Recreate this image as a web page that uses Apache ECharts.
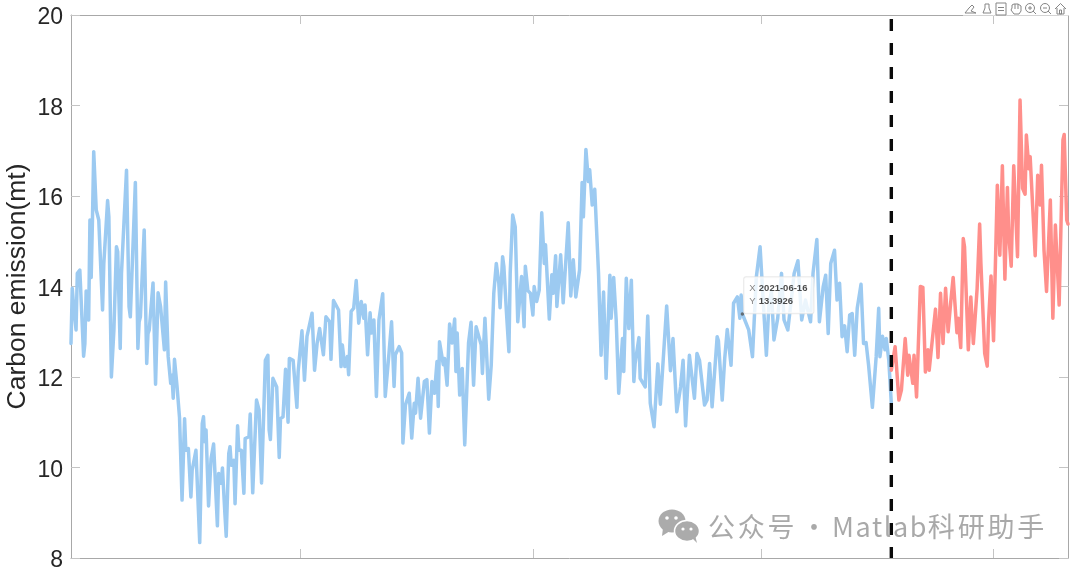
<!DOCTYPE html>
<html>
<head>
<meta charset="utf-8">
<style>html,body{margin:0;padding:0;background:#fff}#c{width:1080px;height:570px}</style>
<script src="https://cdn.jsdelivr.net/npm/echarts@6/dist/echarts.min.js"></script>
</head>
<body>
<div id="c"></div>
<script>
const startDate = [2020, 0, 1];
const endDay = 790;
const splitDay = 650;
const tickDates = [[2020,6,1],[2021,0,1],[2021,6,1],[2022,0,1]];
const yTicks = {min: 8, max: 20, step: 2};
const yName = 'Carbon emission(mt)';
const tipDate = [2021, 5, 16];
const tipValue = 13.3926;
const tipText = ['2021-06-16', '13.3926'];
const watermark = '公众号 · Matlab科研助手';

// [day since start, value]
const observed = [
[0,12.74],[1,13.96],[2,13.6],[4,13.04],[5,14.29],[7,14.36],[8,14.4],[10,12.46],[11,12.74],[12,13.9],[13,13.86],[14,13.26],[15,15.47],[16,14.2],[17,15.47],[18,16.98],[20,15.69],[22,15.47],[25,13.48],[26,14.5],[29,15.9],[30,15.54],[32,12.0],[34,13.04],[36,14.88],[37,14.77],[39,12.63],[40,14.29],[41,14.25],[44,16.57],[46,13.55],[47,13.33],[51,16.3],[53,12.63],[54,13.22],[55,13.33],[58,15.25],[60,12.3],[61,12.96],[62,13.04],[65,14.08],[67,11.84],[69,13.86],[71,13.55],[72,13.58],[74,12.6],[75,14.1],[77,12.45],[79,11.86],[80,12.04],[81,11.53],[82,12.39],[84,11.8],[86,11.1],[88,9.28],[90,11.08],[91,10.38],[93,10.42],[95,9.35],[96,9.94],[99,10.38],[100,10.34],[102,8.34],[104,10.97],[105,11.12],[106,10.57],[107,10.83],[109,9.15],[111,10.2],[113,10.52],[116,8.71],[117,9.87],[119,9.65],[120,9.99],[122,8.95],[123,8.48],[125,10.31],[126,10.46],[127,10.05],[129,10.16],[130,9.2],[132,10.92],[133,10.38],[135,10.38],[137,9.43],[138,10.64],[141,10.68],[142,11.18],[144,9.44],[147,11.49],[149,11.27],[151,9.66],[154,12.37],[156,12.48],[157,10.83],[158,10.62],[160,11.97],[161,11.97],[163,11.78],[165,10.22],[166,11.08],[168,11.12],[170,12.17],[172,11.0],[173,12.41],[176,12.37],[179,11.33],[180,12.12],[183,13.02],[185,11.93],[187,12.9],[191,13.41],[193,12.15],[195,12.74],[197,13.07],[200,12.49],[202,13.33],[205,13.22],[206,12.39],[208,13.69],[212,13.48],[214,12.23],[215,12.71],[217,12.23],[219,12.45],[220,12.05],[222,13.45],[224,13.52],[226,14.13],[228,13.19],[230,13.67],[232,13.3],[233,13.59],[235,12.49],[237,13.42],[238,12.97],[240,13.26],[242,11.57],[244,13.26],[247,13.84],[249,11.57],[252,12.53],[254,13.22],[256,11.79],[257,12.49],[260,12.67],[262,12.53],[263,10.54],[265,11.38],[268,11.64],[270,10.65],[272,11.42],[273,11.2],[275,11.97],[277,11.09],[280,11.9],[282,11.94],[284,10.76],[286,11.9],[288,11.64],[290,12.34],[291,11.35],[292,12.78],[295,12.27],[296,12.41],[298,11.82],[300,13.17],[302,12.75],[304,13.28],[305,12.12],[306,12.97],[308,11.6],[310,12.19],[312,10.5],[315,12.75],[317,13.21],[319,11.82],[321,13.11],[325,12.71],[326,12.08],[328,13.3],[331,11.51],[333,12.27],[335,13.85],[337,14.51],[339,14.07],[340,13.53],[342,14.66],[343,14.44],[345,13.45],[347,12.56],[348,14.29],[350,15.58],[352,15.32],[354,13.22],[357,14.22],[359,13.11],[360,14.45],[362,13.91],[364,13.85],[366,13.37],[367,14.0],[369,13.67],[371,13.92],[373,15.63],[375,14.51],[376,14.92],[379,13.28],[381,14.26],[382,13.85],[384,14.68],[385,13.56],[388,14.7],[390,13.64],[394,15.41],[396,13.79],[398,14.59],[400,13.77],[403,14.37],[405,16.3],[406,15.54],[408,17.03],[410,16.32],[411,16.58],[413,15.8],[415,16.15],[418,14.29],[420,12.48],[422,13.88],[424,11.97],[427,14.25],[428,13.3],[430,14.2],[432,13.26],[434,11.64],[437,12.85],[438,12.12],[440,14.18],[442,13.07],[444,14.14],[446,11.9],[447,12.3],[450,12.87],[451,11.97],[455,11.78],[457,13.35],[459,11.42],[462,10.9],[465,12.29],[467,11.4],[472,13.57],[475,12.14],[477,12.85],[480,11.23],[483,11.78],[485,12.37],[487,10.92],[490,12.48],[494,11.53],[496,12.52],[498,12.37],[502,11.38],[504,11.49],[506,12.3],[508,11.34],[512,12.89],[513,12.8],[516,11.49],[518,12.41],[520,13.05],[523,12.26],[525,13.63],[528,13.77],[530,13.3],[531,13.81],[532,13.3926],[537,13.04],[540,12.45],[543,14.2],[546,14.88],[551,12.48],[553,13.6],[555,13.9],[557,12.82],[560,13.3],[563,14.29],[565,13.26],[568,13.04],[571,13.77],[573,14.29],[576,14.57],[579,13.26],[582,13.7],[586,13.22],[588,14.3],[591,15.04],[593,13.22],[596,13.99],[598,14.25],[600,12.96],[602,14.51],[605,14.8],[607,13.7],[609,14.07],[611,12.89],[613,13.13],[615,12.56],[617,13.37],[619,13.4],[621,12.48],[623,13.52],[626,14.05],[628,12.74],[630,12.76],[632,12.26],[635,11.33],[638,12.45],[640,13.52],[641,12.45],[643,12.9],[645,12.6],[646,12.85],[648,12.37],[650,11.42]
];
const forecast = [
[650,12.15],[653,12.67],[656,11.49],[658,11.71],[661,12.85],[663,12.04],[664,12.48],[667,11.86],[668,12.48],[670,11.56],[673,14.0],[675,13.98],[677,12.11],[679,12.6],[680,12.15],[683,12.96],[685,13.5],[687,12.43],[689,13.85],[691,12.74],[693,13.96],[695,13.0],[697,13.63],[699,14.2],[702,12.98],[703,13.3],[705,12.65],[707,15.06],[708,14.88],[711,12.6],[713,13.77],[715,12.74],[718,13.96],[720,15.38],[721,14.5],[724,12.52],[726,12.24],[727,13.2],[729,14.23],[731,12.8],[734,16.24],[736,14.69],[738,16.67],[740,14.16],[742,16.19],[743,15.17],[745,14.45],[747,16.67],[750,14.66],[752,18.12],[754,16.17],[756,16.04],[757,17.35],[759,16.6],[760,16.87],[764,14.68],[766,16.46],[768,15.8],[769,16.68],[771,14.8],[773,13.89],[776,15.91],[778,13.3],[780,15.36],[783,13.59],[786,17.24],[787,17.36],[789,15.47],[790,15.38]
];

const DAY = 86400000;
const t0 = new Date(startDate[0], startDate[1], startDate[2]).getTime();
const at = d => t0 + d * DAY;
const ticksMs = tickDates.map(d => new Date(d[0], d[1], d[2]).getTime());
const asTime = arr => arr.map(p => [at(p[0]), p[1]]);

const axisColor = '#a8a8a8';
const xBase = {
  type: 'time', min: at(0), max: at(endDay),
  axisLine: {show: true, onZero: false, lineStyle: {color: axisColor, width: 1}},
  axisTick: {show: true, inside: true, length: 9, customValues: ticksMs, lineStyle: {color: '#c4c4c4', width: 1}},
  axisLabel: {show: false}, splitLine: {show: false}, minorTick: {show: false}
};
const yBase = {
  type: 'value', min: yTicks.min, max: yTicks.max, interval: yTicks.step,
  axisLine: {show: true, onZero: false, lineStyle: {color: axisColor, width: 1}},
  axisTick: {show: true, inside: true, length: 9, lineStyle: {color: '#c4c4c4', width: 1}},
  splitLine: {show: false}
};

// toolbar and watermark decorations
const iconStroke = {stroke: '#858585', fill: 'none', lineWidth: 1};
const ic = (type, shape, style) => ({type, shape, style: Object.assign({}, iconStroke, style || {}), z: 60});
const toolbar = [
  {type: 'rect', shape: {x: 963, y: 0, width: 117, height: 15.5}, style: {fill: '#fff'}, z: 59},
  ic('polyline', {points: [[965,13],[969,8],[972,5],[974,7],[971,11],[976,13],[965,13]]}),
  ic('polyline', {points: [[985,4],[989,4],[989,8],[991,13],[983,13],[985,8],[985,4]]}),
  ic('rect', {x: 996, y: 3, width: 10, height: 12}),
  ic('line', {x1: 998, y1: 7.5, x2: 1004, y2: 7.5}),
  ic('line', {x1: 998, y1: 10.5, x2: 1004, y2: 10.5}),
  ic('polyline', {points: [[1012,8],[1012,5],[1014,4],[1018,4],[1021,6],[1021,11],[1019,14],[1014,14],[1011,10],[1012,8]]}),
  ic('line', {x1: 1015, y1: 4, x2: 1015, y2: 9}),
  ic('line', {x1: 1018, y1: 4, x2: 1018, y2: 9}),
  ic('circle', {cx: 1030, cy: 8, r: 4.5}),
  ic('line', {x1: 1033, y1: 11, x2: 1036, y2: 14}),
  ic('line', {x1: 1028, y1: 8, x2: 1032, y2: 8}),
  ic('line', {x1: 1030, y1: 6, x2: 1030, y2: 10}),
  ic('circle', {cx: 1045, cy: 8, r: 4.5}),
  ic('line', {x1: 1048, y1: 11, x2: 1051, y2: 14}),
  ic('line', {x1: 1043, y1: 8, x2: 1047, y2: 8}),
  ic('polyline', {points: [[1055,9],[1060.5,3.5],[1066,9]]}),
  ic('polyline', {points: [[1057,8],[1057,14],[1064,14],[1064,8]]}),
  ic('rect', {x: 1059.5, y: 10, width: 2, height: 4})
];
const wmColor = '#ababab';
const wechat = [
  {type: 'ellipse', shape: {cx: 672, cy: 521, rx: 13.5, ry: 11.5}, style: {fill: wmColor}, z: 60},
  {type: 'polygon', shape: {points: [[663,528],[662,536],[670,531]]}, style: {fill: wmColor}, z: 60},
  {type: 'ellipse', shape: {cx: 687, cy: 531, rx: 12.5, ry: 10.5}, style: {fill: wmColor, stroke: '#fff', lineWidth: 1.5}, z: 61},
  {type: 'polygon', shape: {points: [[692,538],[697,543],[695,535]]}, style: {fill: wmColor}, z: 61},
  {type: 'circle', shape: {cx: 667, cy: 518, r: 1.8}, style: {fill: '#fff'}, z: 62},
  {type: 'circle', shape: {cx: 676, cy: 518, r: 1.8}, style: {fill: '#fff'}, z: 62},
  {type: 'circle', shape: {cx: 683, cy: 529, r: 1.6}, style: {fill: '#fff'}, z: 62},
  {type: 'circle', shape: {cx: 691, cy: 529, r: 1.6}, style: {fill: '#fff'}, z: 62}
];
// watermark glyphs are placed one by one because canvas text has no letter spacing
const wmFont = '27px "Noto Sans CJK SC"';
const measure = document.createElement('canvas').getContext('2d');
measure.font = wmFont;
let wmX = 708;
const wmGlyphs = Array.from(watermark).map(ch => {
  const el = {type: 'text', left: wmX, top: 513, z: 62, style: {text: ch, fill: 'rgba(150,150,150,0.82)', font: wmFont}};
  const gap = ch === ' ' ? -3 : (ch.charCodeAt(0) > 255 ? 2.8 : 1.5);
  wmX += measure.measureText(ch).width + gap;
  return el;
}).filter(e => e.style.text !== ' ');

const chart = echarts.init(document.getElementById('c'), null, {renderer: 'canvas'});
chart.setOption({
  animation: false,
  backgroundColor: '#fff',
  grid: {left: 71, right: 12, top: 15, bottom: 12, outerBoundsMode: 'none'},
  xAxis: [
    Object.assign({}, xBase, {position: 'bottom'}),
    Object.assign({}, xBase, {position: 'top'})
  ],
  yAxis: [
    Object.assign({}, yBase, {
      position: 'left',
      axisLabel: {show: true, margin: 8, color: '#262626', fontSize: 23, fontFamily: '"Liberation Sans"', verticalAlign: 'top', lineHeight: 6, showMinLabel: true, showMaxLabel: true},
      name: yName, nameLocation: 'middle', nameRotate: 90, nameGap: 40, nameMoveOverlap: false,
      nameTextStyle: {color: '#262626', fontSize: 26.5, fontFamily: '"Liberation Sans"', align: 'center'}
    }),
    Object.assign({}, yBase, {position: 'right', axisLabel: {show: false}})
  ],
  series: [
    {name: 'Observed', type: 'line', data: asTime(observed), showSymbol: false, symbol: 'none', z: 2,
     lineStyle: {color: '#9ccaf1', width: 3.5, join: 'round', cap: 'round'}},
    {name: 'Forecast', type: 'line', data: asTime(forecast), showSymbol: false, symbol: 'none', z: 3,
     lineStyle: {color: '#ff8f8b', width: 3.5, join: 'round', cap: 'round'}},
    {name: 'Split', type: 'line', data: [[at(splitDay), 20], [at(splitDay), yTicks.min]], showSymbol: false, symbol: 'none', z: 4,
     lineStyle: {color: '#0a0a0a', width: 3.4, type: [12, 12], dashOffset: 20}},
    {name: 'Tip', type: 'scatter', z: 5, symbolSize: 3.5, itemStyle: {color: '#555'},
     data: [[new Date(tipDate[0], tipDate[1], tipDate[2]).getTime(), tipValue]],
     label: {
       show: true, position: [3.5, -35], padding: [5, 6, 5, 5], backgroundColor: '#fff',
       borderColor: '#e4e4e4', borderWidth: 1, borderRadius: 2,
       formatter: () => '{k|X} {v|' + tipText[0] + '}\n{k|Y} {v|' + tipText[1] + '}',
       rich: {
         k: {color: '#666', fontSize: 9.5, lineHeight: 13, fontFamily: '"Liberation Sans"'},
         v: {color: '#1a1a1a', fontSize: 9.5, fontWeight: 'bold', lineHeight: 13, fontFamily: '"Liberation Sans"'}
       }
     }}
  ],
  graphic: {elements: toolbar.concat(wechat, wmGlyphs)}
});
</script>
</body>
</html>
